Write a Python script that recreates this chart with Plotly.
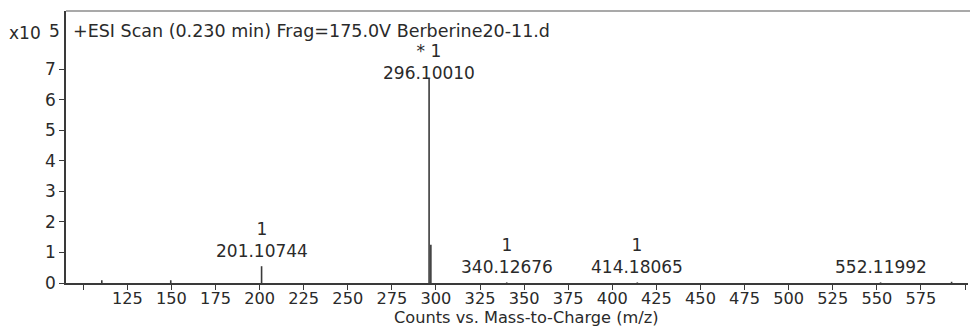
import plotly.graph_objects as go

# Annotated peaks (m/z text as printed, intensity in units of 1e5 counts, charge label)
label_mz = ["201.10744", "296.10010", "340.12676", "414.18065", "552.11992"]
label_int = [0.55, 6.68, 0.02, 0.02, 0.02]
label_charge = ["1", "* 1", "1", "1", ""]

# Unannotated peaks (isotope and minor ions)
other_mz = [110.5, 149.6, 297.10, 592.4]
other_int = [0.09, 0.09, 1.25, 0.04]

# Axis ticks
x_tickvals = [100, 125, 150, 175, 200, 225, 250, 275, 300, 325, 350, 375, 400,
              425, 450, 475, 500, 525, 550, 575, 600]
x_ticktext = ["", "125", "150", "175", "200", "225", "250", "275", "300", "325",
              "350", "375", "400", "425", "450", "475", "500", "525", "550", "575", ""]
y_tickvals = [0, 1, 2, 3, 4, 5, 6, 7]

title_text = "+ESI Scan (0.230 min) Frag=175.0V Berberine20-11.d"
xaxis_text = "Counts vs. Mass-to-Charge (m/z)"

FONT = "DejaVu Sans, Verdana, sans-serif"
FS = 17.5
FS_LABEL = 17
FS_AXIS = 16.2
INK = "#2a2a2a"

W, H = 970, 327
ML, MR, MT, MB = 66, 2, 11, 44

# Build stick spectrum as one trace of vertical segments
all_mz = [float(m) for m in label_mz] + other_mz
all_int = label_int + other_int
xs, ys = [], []
for m, h in zip(all_mz, all_int):
    xs += [m, m, None]
    ys += [0, h, None]

fig = go.Figure()
fig.add_trace(go.Scatter(x=xs, y=ys, mode="lines",
                         line=dict(color="#3a3a3a", width=1.6),
                         hoverinfo="skip", showlegend=False))

# Peak labels: charge on top line, m/z below
for mz_txt, h, z in zip(label_mz, label_int, label_charge):
    text = f"{z}<br>{mz_txt}" if z else mz_txt
    shift = -6 if z.startswith("*") else 3
    fig.add_annotation(x=float(mz_txt), y=h, text=text, showarrow=False,
                       xanchor="center", yanchor="bottom", yshift=shift,
                       font=dict(family=FONT, size=FS_LABEL, color=INK), align="center")

pw = W - ML - MR
# Scan header inside the plot area
fig.add_annotation(xref="paper", yref="paper", x=(71 - ML) / pw, y=1, yshift=-20,
                   text=title_text, showarrow=False, xanchor="left", yanchor="middle",
                   font=dict(family=FONT, size=FS, color=INK))
# Intensity scale factor
fig.add_annotation(xref="paper", yref="paper", x=(43 - ML) / pw, y=1, yshift=-22,
                   text="x10", showarrow=False, xanchor="right", yanchor="middle",
                   font=dict(family=FONT, size=FS_LABEL, color=INK))
fig.add_annotation(xref="paper", yref="paper", x=(47 - ML) / pw, y=1, yshift=-20,
                   text="5", showarrow=False, xanchor="left", yanchor="middle",
                   font=dict(family=FONT, size=FS_LABEL, color=INK))
# x-axis title
fig.add_annotation(xref="paper", yref="paper", x=(526 - ML) / pw, y=0, yshift=-34,
                   text=xaxis_text, showarrow=False, xanchor="center", yanchor="middle",
                   borderpad=0,
                   font=dict(family=FONT, size=FS_AXIS, color=INK))

# Light frame line along the top
fig.add_shape(type="line", xref="paper", yref="paper", x0=0, x1=(W - ML) / pw,
              y0=1, y1=1, line=dict(color="#8c8c8c", width=1.5))

fig.update_layout(
    width=W, height=H,
    margin=dict(l=ML, r=MR, t=MT, b=MB, pad=0),
    paper_bgcolor="white", plot_bgcolor="white",
    font=dict(family=FONT, size=FS, color=INK),
)
fig.update_xaxes(range=[90.2, 601.7], tickvals=x_tickvals, ticktext=x_ticktext,
                 ticks="outside", ticklen=5, tickwidth=1.2, tickcolor="#3a3a3a",
                 ticklabelstandoff=-5,
                 showline=True, linecolor="#3a3a3a", linewidth=1.6,
                 showgrid=False, zeroline=False,
                 tickfont=dict(family=FONT, size=FS_AXIS, color=INK))
fig.update_yaxes(range=[0, 8.91], tickvals=y_tickvals,
                 ticks="outside", ticklen=5, tickwidth=1.2, tickcolor="#3a3a3a",
                 showline=True, linecolor="#3a3a3a", linewidth=1.6,
                 showgrid=False, zeroline=False,
                 tickfont=dict(family=FONT, size=FS_LABEL, color=INK))

fig.write_html("out.html")
